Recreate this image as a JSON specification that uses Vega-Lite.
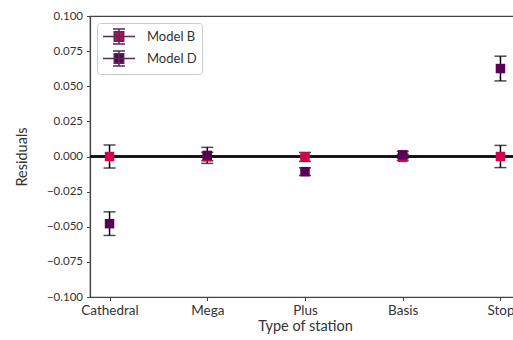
{
  "$schema": "https://vega.github.io/schema/vega-lite/v6.json",
  "autosize": "none",
  "padding": {"left": 90, "top": 16, "right": 0, "bottom": 43},
  "width": 430,
  "height": 281,
  "background": "white",
  "config": {
    "font": "Lato",
    "view": {"stroke": "#444", "strokeWidth": 1.2},
    "axis": {
      "labelFont": "Lato",
      "labelFontSize": 11.5,
      "labelColor": "#333",
      "labelOverlap": false,
      "labelFlush": false,
      "titleFont": "Lato",
      "titleFontSize": 14.5,
      "titleFontWeight": "normal",
      "titleColor": "#333",
      "domainColor": "#444",
      "domainWidth": 1.2,
      "tickColor": "#444",
      "tickSize": 3.5,
      "tickWidth": 1,
      "grid": false
    }
  },
  "data": {
    "values": [
      {"station": "Cathedral", "model": "Model B", "value": 0.0, "lo": -0.0082, "hi": 0.0082},
      {"station": "Mega", "model": "Model B", "value": 0.0, "lo": -0.003, "hi": 0.003},
      {"station": "Plus", "model": "Model B", "value": -0.0003, "lo": -0.0035, "hi": 0.0029},
      {"station": "Basis", "model": "Model B", "value": -0.0006, "lo": -0.0028, "hi": 0.0016},
      {"station": "Stop", "model": "Model B", "value": 0.0, "lo": -0.0079, "hi": 0.0079},
      {"station": "Cathedral", "model": "Model D", "value": -0.0478, "lo": -0.0562, "hi": -0.0394},
      {"station": "Mega", "model": "Model D", "value": 0.0008, "lo": -0.0049, "hi": 0.0065},
      {"station": "Plus", "model": "Model D", "value": -0.0108, "lo": -0.0135, "hi": -0.0081},
      {"station": "Basis", "model": "Model D", "value": 0.0012, "lo": -0.0013, "hi": 0.0037},
      {"station": "Stop", "model": "Model D", "value": 0.0626, "lo": 0.0538, "hi": 0.0714}
    ]
  },
  "encoding": {
    "x": {
      "field": "station",
      "type": "nominal",
      "sort": ["Cathedral", "Mega", "Plus", "Basis", "Stop"],
      "scale": {"type": "point", "padding": 0.2},
      "axis": {"title": "Type of station", "labelAngle": 0, "labelFontSize": 13.5, "labelPadding": 3, "titlePadding": 2}
    }
  },
  "layer": [
    {
      "mark": {"type": "rule", "color": "#111", "strokeWidth": 1.4},
      "encoding": {
        "x": null,
        "y": {
          "datum": 0,
          "type": "quantitative",
          "scale": {"domain": [-0.1, 0.1], "nice": false, "zero": false},
          "axis": {
            "title": "Residuals",
            "values": [-0.1, -0.075, -0.05, -0.025, 0, 0.025, 0.05, 0.075, 0.1],
            "tickCount": 20,
            "format": ".3f",
            "labelPadding": 4,
            "titlePadding": 17
          }
        }
      }
    },
    {
      "mark": {"type": "rule", "color": "black", "strokeWidth": 1.5},
      "encoding": {
        "detail": {"field": "model"},
        "y": {"field": "lo", "type": "quantitative"},
        "y2": {"field": "hi"},
        "order": {"field": "model"}
      }
    },
    {
      "mark": {"type": "tick", "color": "black", "size": 12, "thickness": 1.5, "orient": "horizontal"},
      "encoding": {"y": {"field": "lo", "type": "quantitative"}}
    },
    {
      "mark": {"type": "tick", "color": "black", "size": 12, "thickness": 1.5, "orient": "horizontal"},
      "encoding": {"y": {"field": "hi", "type": "quantitative"}}
    },
    {
      "mark": {"type": "point", "shape": "square", "filled": true, "opacity": 1, "size": 90},
      "encoding": {
        "y": {"field": "value", "type": "quantitative"},
        "order": {"field": "model"},
        "color": {
          "field": "model",
          "type": "nominal",
          "scale": {"domain": ["Model B", "Model D"], "range": ["#d6004f", "#5c0057"]},
          "legend": {
            "title": null,
            "orient": "top-left",
            "offset": 7,
            "padding": 5,
            "fillColor": "white",
            "strokeColor": "#cccccc",
            "cornerRadius": 3,
            "symbolType": "M-1,0H3.27M1.13,-1V1M0.33,-1H1.93M0.33,1H1.93M0.5,-0.63H1.76V0.63H0.5Z",
            "symbolSize": 225,
            "symbolStrokeWidth": 1.5,
            "symbolStrokeColor": "#5a2a5a",
            "symbolOpacity": 1,
            "rowPadding": 1,
            "labelOffset": 28,
            "labelFont": "Lato",
            "labelFontSize": 13,
            "labelColor": "#333"
          }
        }
      }
    }
  ]
}
